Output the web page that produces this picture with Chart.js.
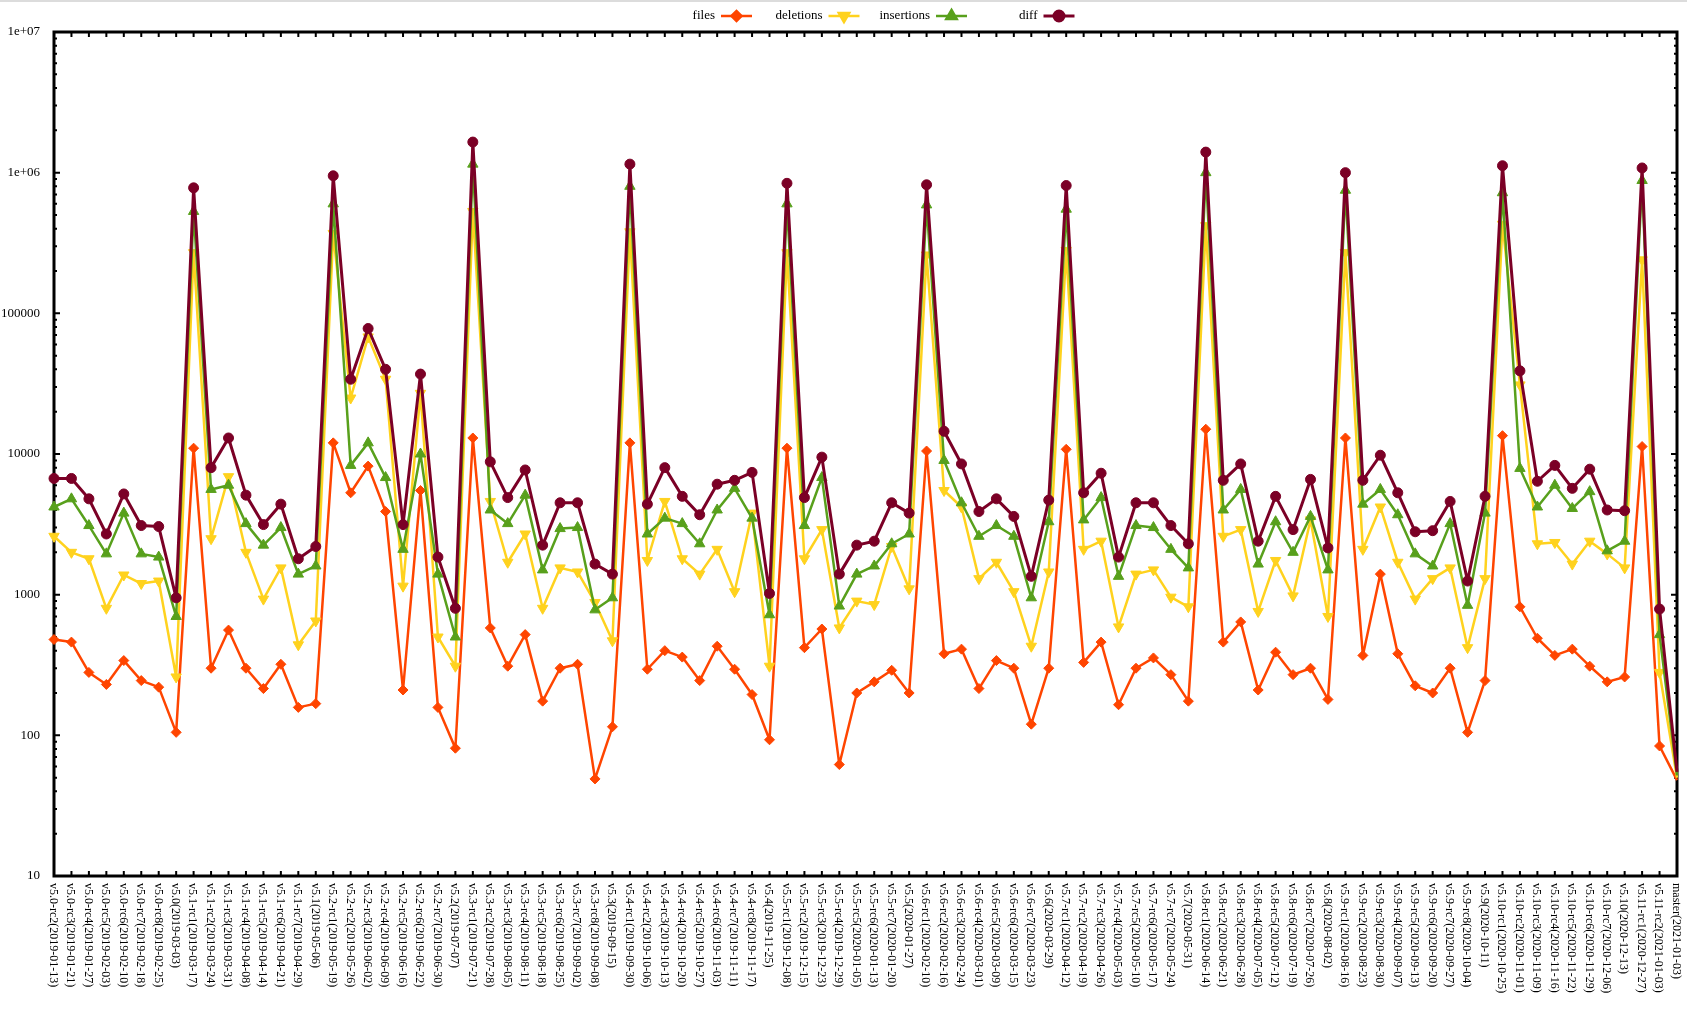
<!DOCTYPE html>
<html>
<head>
<meta charset="utf-8">
<script src="https://cdn.jsdelivr.net/npm/chart.js@4.4.0/dist/chart.umd.min.js"></script>
<style>
  html, body { margin: 0; padding: 0; background: #fff; }
  canvas { display: block; }
</style>
</head>
<body>
<canvas id="c" width="1687" height="1011"></canvas>
<script>
// x categories: tag + date
const labels = [
  "v5.0-rc2(2019-01-13)", "v5.0-rc3(2019-01-21)", "v5.0-rc4(2019-01-27)", "v5.0-rc5(2019-02-03)",
  "v5.0-rc6(2019-02-10)", "v5.0-rc7(2019-02-18)", "v5.0-rc8(2019-02-25)", "v5.0(2019-03-03)",
  "v5.1-rc1(2019-03-17)", "v5.1-rc2(2019-03-24)", "v5.1-rc3(2019-03-31)", "v5.1-rc4(2019-04-08)",
  "v5.1-rc5(2019-04-14)", "v5.1-rc6(2019-04-21)", "v5.1-rc7(2019-04-29)", "v5.1(2019-05-06)",
  "v5.2-rc1(2019-05-19)", "v5.2-rc2(2019-05-26)", "v5.2-rc3(2019-06-02)", "v5.2-rc4(2019-06-09)",
  "v5.2-rc5(2019-06-16)", "v5.2-rc6(2019-06-22)", "v5.2-rc7(2019-06-30)", "v5.2(2019-07-07)",
  "v5.3-rc1(2019-07-21)", "v5.3-rc2(2019-07-28)", "v5.3-rc3(2019-08-05)", "v5.3-rc4(2019-08-11)",
  "v5.3-rc5(2019-08-18)", "v5.3-rc6(2019-08-25)", "v5.3-rc7(2019-09-02)", "v5.3-rc8(2019-09-08)",
  "v5.3(2019-09-15)", "v5.4-rc1(2019-09-30)", "v5.4-rc2(2019-10-06)", "v5.4-rc3(2019-10-13)",
  "v5.4-rc4(2019-10-20)", "v5.4-rc5(2019-10-27)", "v5.4-rc6(2019-11-03)", "v5.4-rc7(2019-11-11)",
  "v5.4-rc8(2019-11-17)", "v5.4(2019-11-25)", "v5.5-rc1(2019-12-08)", "v5.5-rc2(2019-12-15)",
  "v5.5-rc3(2019-12-23)", "v5.5-rc4(2019-12-29)", "v5.5-rc5(2020-01-05)", "v5.5-rc6(2020-01-13)",
  "v5.5-rc7(2020-01-20)", "v5.5(2020-01-27)", "v5.6-rc1(2020-02-10)", "v5.6-rc2(2020-02-16)",
  "v5.6-rc3(2020-02-24)", "v5.6-rc4(2020-03-01)", "v5.6-rc5(2020-03-09)", "v5.6-rc6(2020-03-15)",
  "v5.6-rc7(2020-03-23)", "v5.6(2020-03-29)", "v5.7-rc1(2020-04-12)", "v5.7-rc2(2020-04-19)",
  "v5.7-rc3(2020-04-26)", "v5.7-rc4(2020-05-03)", "v5.7-rc5(2020-05-10)", "v5.7-rc6(2020-05-17)",
  "v5.7-rc7(2020-05-24)", "v5.7(2020-05-31)", "v5.8-rc1(2020-06-14)", "v5.8-rc2(2020-06-21)",
  "v5.8-rc3(2020-06-28)", "v5.8-rc4(2020-07-05)", "v5.8-rc5(2020-07-12)", "v5.8-rc6(2020-07-19)",
  "v5.8-rc7(2020-07-26)", "v5.8(2020-08-02)", "v5.9-rc1(2020-08-16)", "v5.9-rc2(2020-08-23)",
  "v5.9-rc3(2020-08-30)", "v5.9-rc4(2020-09-07)", "v5.9-rc5(2020-09-13)", "v5.9-rc6(2020-09-20)",
  "v5.9-rc7(2020-09-27)", "v5.9-rc8(2020-10-04)", "v5.9(2020-10-11)", "v5.10-rc1(2020-10-25)",
  "v5.10-rc2(2020-11-01)", "v5.10-rc3(2020-11-09)", "v5.10-rc4(2020-11-16)", "v5.10-rc5(2020-11-22)",
  "v5.10-rc6(2020-11-29)", "v5.10-rc7(2020-12-06)", "v5.10(2020-12-13)", "v5.11-rc1(2020-12-27)",
  "v5.11-rc2(2021-01-03)", "master(2021-01-03)"
];

const files = [
  480, 460, 280, 230, 340, 245, 220, 105,
  11000, 300, 560, 300, 215, 320, 158, 168,
  12000, 5300, 8200, 3900, 210, 5500, 158, 81,
  13000, 580, 310, 520, 175, 300, 320, 49, 115,
  12000, 295, 400, 360, 245, 430, 295, 195, 93,
  11000, 420, 570, 62, 200, 240, 290, 200,
  10500, 380, 410, 215, 340, 300, 120, 300,
  10800, 330, 460, 165, 300, 355, 270, 175,
  15000, 460, 640, 210, 390, 270, 300, 180,
  13000, 370, 1400, 380, 225, 200, 300, 105, 245,
  13500, 820, 490, 370, 410, 310, 240, 260,
  11300, 84, 48
];

const deletions = [
  2600, 2000, 1800, 800, 1380, 1200, 1250, 260,
  270000, 2500, 6900, 2000, 930, 1550, 440, 650,
  370000, 25000, 68000, 34000, 1150, 27000, 500, 310,
  530000, 4600, 1700, 2700, 800, 1550, 1450, 880, 470,
  380000, 1750, 4600, 1800, 1400, 2100, 1050, 3800, 310,
  270000, 1800, 2900, 580, 900, 850, 2200, 1100,
  260000, 5500, 4200, 1300, 1700, 1050, 430, 1450,
  280000, 2100, 2400, 590, 1400, 1500, 960, 820,
  420000, 2600, 2900, 760, 1750, 980, 3400, 700,
  270000, 2100, 4200, 1700, 930, 1300, 1550, 420, 1300,
  430000, 31000, 2300, 2350, 1650, 2400, 1950, 1550,
  240000, 280, 50
];

const insertions = [
  4200, 4800, 3100, 1950, 3800, 1950, 1850, 700,
  530000, 5600, 6000, 3200, 2250, 3000, 1400, 1600,
  600000, 8300, 12000, 6800, 2100, 10000, 1400, 500,
  1150000, 4000, 3200, 5100, 1500, 2950, 3000, 780, 950,
  800000, 2700, 3500, 3200, 2300, 4000, 5700, 3500, 720,
  600000, 3100, 6800, 830, 1400, 1600, 2300, 2700,
  590000, 9000, 4500, 2600, 3100, 2600, 950, 3300,
  550000, 3400, 4900, 1350, 3100, 3000, 2100, 1550,
  1000000, 4000, 5600, 1650, 3300, 2000, 3600, 1500,
  750000, 4400, 5600, 3700, 1950, 1600, 3200, 840, 3800,
  720000, 7900, 4200, 6000, 4100, 5400, 2050, 2400,
  880000, 520, 52
];

const diff = [
  6700, 6700, 4800, 2700, 5200, 3100, 3050, 950,
  780000, 8000, 13000, 5100, 3150, 4400, 1800, 2200,
  950000, 34000, 78000, 40000, 3150, 37000, 1850, 800,
  1650000, 8800, 4900, 7700, 2250, 4500, 4500, 1650, 1400,
  1150000, 4400, 8000, 5000, 3700, 6100, 6500, 7400, 1020,
  840000, 4900, 9500, 1400, 2250, 2400, 4500, 3800,
  820000, 14500, 8500, 3900, 4800, 3600, 1350, 4700,
  810000, 5300, 7300, 1850, 4500, 4500, 3100, 2300,
  1400000, 6500, 8500, 2400, 5000, 2900, 6600, 2150,
  1000000, 6500, 9800, 5300, 2800, 2850, 4600, 1250, 5000,
  1120000, 39000, 6400, 8300, 5700, 7800, 4000, 3950,
  1080000, 790, 55
];

const yTickValues = [10, 100, 1000, 10000, 100000, 1000000, 10000000];
const yTickText = ["10", "100", "1000", "10000", "100000", "1e+06", "1e+07"];

const FONT = "'Liberation Serif', 'DejaVu Serif', serif";
Chart.defaults.font.family = FONT;
Chart.defaults.color = "#000";

// no marker on the last (master) point
const lastHidden = r => ctx => ctx.dataIndex === labels.length - 1 ? 0 : r;

function series(label, data, color, style, radius, rotation, width, order) {
  return {
    label, data, order,
    borderColor: color, backgroundColor: color,
    borderWidth: width,
    borderJoinStyle: "round",
    pointStyle: style, rotation,
    pointRadius: lastHidden(radius),
    pointHoverRadius: lastHidden(radius),
    pointBorderWidth: 1,
    legendRadius: radius,
    tension: 0, clip: false
  };
}

function marker(ctx, style, r, rot, x, y) {
  if (Chart.helpers && Chart.helpers.drawPoint) {
    Chart.helpers.drawPoint(ctx, { pointStyle: style, radius: r, rotation: rot, borderWidth: 1 }, x, y);
  }
}

// gnuplot-like frame: thick border and inward ticks on all four sides
const frame = {
  id: "frame",
  beforeDatasetsDraw(chart) {
    const { ctx, chartArea: a, scales: { x, y } } = chart;
    ctx.save();
    ctx.fillStyle = "#dcdcdc";
    ctx.fillRect(0, 0, chart.width, 2);
    ctx.strokeStyle = "#000";
    ctx.lineWidth = 2;
    ctx.beginPath();
    y.ticks.forEach(t => {
      const yy = y.getPixelForValue(t.value);
      const len = yTickValues.includes(t.value) ? 6 : 3;
      ctx.moveTo(a.left, yy); ctx.lineTo(a.left + len, yy);
      ctx.moveTo(a.right, yy); ctx.lineTo(a.right - len, yy);
    });
    labels.forEach((_, i) => {
      const xx = x.getPixelForValue(i);
      ctx.moveTo(xx, a.bottom); ctx.lineTo(xx, a.bottom - 5);
      ctx.moveTo(xx, a.top); ctx.lineTo(xx, a.top + 5);
    });
    ctx.stroke();
    ctx.lineWidth = 3;
    ctx.strokeRect(a.left, a.top, a.right - a.left, a.bottom - a.top);
    ctx.restore();
  },
  afterDraw(chart) {
    const { ctx, chartArea: a, scales: { x } } = chart;
    ctx.save();
    // rotated category labels, reading downward
    ctx.fillStyle = "#000";
    ctx.font = "12px " + FONT;
    ctx.textAlign = "left";
    ctx.textBaseline = "middle";
    labels.forEach((lab, i) => {
      ctx.save();
      ctx.translate(x.getPixelForValue(i) - 1, a.bottom + 7);
      ctx.rotate(Math.PI / 2);
      ctx.fillText(lab, 0, 0);
      ctx.restore();
    });
    // legend: text then line sample
    ctx.font = "13px " + FONT;
    ctx.textAlign = "right";
    const ly = 16;
    chart.data.datasets.forEach((ds, i) => {
      const sx = 721 + i * 107.5;
      ctx.fillStyle = "#000";
      ctx.fillText(ds.label, sx - 6, ly);
      ctx.strokeStyle = ds.borderColor;
      ctx.lineWidth = ds.borderWidth;
      ctx.beginPath();
      ctx.moveTo(sx, ly); ctx.lineTo(sx + 31, ly);
      ctx.stroke();
      ctx.fillStyle = ds.backgroundColor;
      marker(ctx, ds.pointStyle, ds.legendRadius, ds.rotation, sx + 15.5, ly);
    });
    ctx.restore();
  }
};

const datasets = [
  series("files", files, "#ff4500", "rectRot", 5, 0, 2.5, 4),
  series("deletions", deletions, "#ffd21e", "triangle", 6, 180, 2.5, 3),
  series("insertions", insertions, "#58a01c", "triangle", 6, 0, 2.5, 2),
  series("diff", diff, "#7b0026", "circle", 5, 0, 3, 1)
];

new Chart(document.getElementById("c"), {
  type: "line",
  data: { labels, datasets },
  options: {
    responsive: false,
    animation: false,
    layout: { padding: { top: 32, right: 10, left: 0, bottom: 0 } },
    plugins: { legend: { display: false }, tooltip: { enabled: false } },
    scales: {
      x: {
        type: "category",
        offset: false,
        grid: { display: false },
        border: { display: false },
        ticks: { display: false },
        afterFit: s => { s.height = 135; }
      },
      y: {
        type: "logarithmic",
        min: 10,
        max: 10000000,
        grid: { display: false },
        border: { display: false },
        afterBuildTicks: s => {
          const t = [];
          for (let e = 1; e < 7; e++) {
            for (let m = 1; m < 10; m++) t.push({ value: m * Math.pow(10, e) });
          }
          t.push({ value: 10000000 });
          s.ticks = t;
        },
        afterFit: s => { s.width = 54; },
        ticks: {
          autoSkip: false,
          padding: 6,
          font: { size: 13 },
          callback: v => {
            const k = yTickValues.indexOf(v);
            return k < 0 ? "" : yTickText[k];
          }
        }
      }
    }
  },
  plugins: [frame]
});
</script>
</body>
</html>
